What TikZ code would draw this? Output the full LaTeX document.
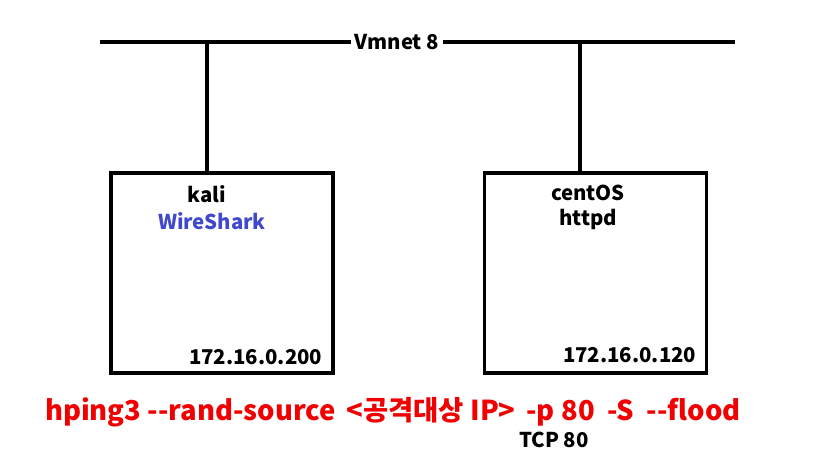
\documentclass[tikz,border=0pt]{standalone}
\usepackage{fontspec}
\setmainfont{Noto Sans CJK KR}
\usetikzlibrary{positioning}
\definecolor{wsblue}{RGB}{64,72,204}
\definecolor{cmdred}{RGB}{240,0,0}

\begin{document}
\begin{tikzpicture}[x=0.025cm,y=-0.025cm,
        wire/.style={line width=2.3pt},
        hostbox/.style={draw,line width=2.3pt,minimum width=5.55cm,minimum height=5cm,inner sep=0pt},
        label/.style={font=\bfseries\fontsize{14.5}{16}\selectfont,inner sep=1pt}]
        \useasboundingbox (0,0) rectangle (817,467);

        % Vmnet 8 bus along the top
        \coordinate (busL) at (100,42);
        \coordinate (busR) at (735,42);
        \draw[wire] (busL) -- (busR);
        \node[label,fill=white,inner xsep=3pt] (vmnet) at (397,42) {Vmnet 8};

        % Host boxes
        \node[hostbox] (kali) at (222,273) {};
        \node[hostbox] (cent) at (595.5,273) {};

        % Drops from the bus to each host
        \coordinate (tapK) at (207,42);
        \coordinate (tapC) at (580,42);
        \draw[wire] (tapK) -- (tapK |- kali.north);
        \draw[wire] (tapC) -- (tapC |- cent.north);

        % Text inside kali box
        \node[label] (kaliname) at (207,194) {kali};
        \node[label,text=wsblue] (wshark) at (212,221) {WireShark};
        \node[label,anchor=east] (kaliip) at (324,357) {172.16.0.200};

        % Text inside centOS box
        \node[label] (centname) at (588,193) {centOS};
        \node[label] (httpd) at (588,219) {httpd};
        \node[label,anchor=east] (centip) at (698,355) {172.16.0.120};

        % Attack command and port
        \node[font=\bfseries\fontsize{19.5}{22}\selectfont,text=cmdred,inner sep=0pt] (cmd) at (393,412)
            {hping3 {-}{-}rand-source \,<공격대상 IP>\, -p 80 \ -S \ {-}{-}flood};
        \node[label] (tcp) at (554,440) {TCP 80};
    \end{tikzpicture}
\end{document}
